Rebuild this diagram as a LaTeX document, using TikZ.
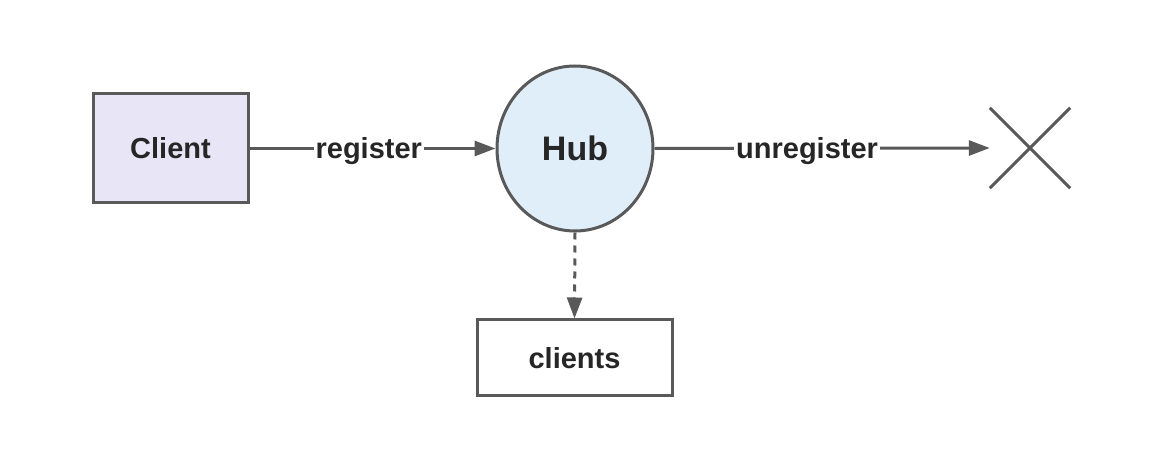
\documentclass[tikz,border=0pt]{standalone}
\usepackage{fontspec}
\setmainfont{Liberation Sans}
\usetikzlibrary{arrows.meta,shapes.geometric}
\definecolor{edgegray}{HTML}{595959}
\definecolor{txt}{HTML}{262626}
\definecolor{clientfill}{HTML}{E8E5F7}
\definecolor{hubfill}{HTML}{E0EEFA}
\tikzset{
  box/.style={draw=edgegray, line width=3pt, text=txt, font=\fontsize{29}{32}\selectfont\bfseries, inner sep=0pt},
  conn/.style={draw=edgegray, line width=3pt, -{Triangle[length=21pt,width=15pt]}},
  lbl/.style={fill=white, text=txt, font=\fontsize{29}{32}\selectfont\bfseries, inner sep=2pt, yshift=-3pt},
}
\begin{document}
\begin{tikzpicture}[x=1pt,y=-1pt]
\useasboundingbox (0,0) rectangle (1176,454);
\node[box, fill=clientfill, minimum width=155pt, minimum height=109pt] (client) at (170.5,148.5) {Client};
\node[box, ellipse, fill=hubfill, minimum width=156pt, minimum height=165pt, font=\fontsize{34}{38}\selectfont\bfseries] (hub) at (575,148.5) {Hub};
\node[box, fill=white, minimum width=195pt, minimum height=76pt] (clients) at (574.5,358) {clients};
\node[minimum width=80pt, minimum height=80pt, inner sep=0pt] (x) at (1030,148) {};
\draw[edgegray, line width=3pt] (x.north west) -- (x.south east);
\draw[edgegray, line width=3pt] (x.south west) -- (x.north east);
\draw[conn] (client.east) -- node[lbl, pos=0.485] {register} (hub.west);
\draw[conn] (hub.east) -- node[lbl, pos=0.455] {unregister} (x.west);
\draw[conn, dash pattern=on 7pt off 6pt] (hub.south) -- (clients.north);
\end{tikzpicture}
\end{document}
